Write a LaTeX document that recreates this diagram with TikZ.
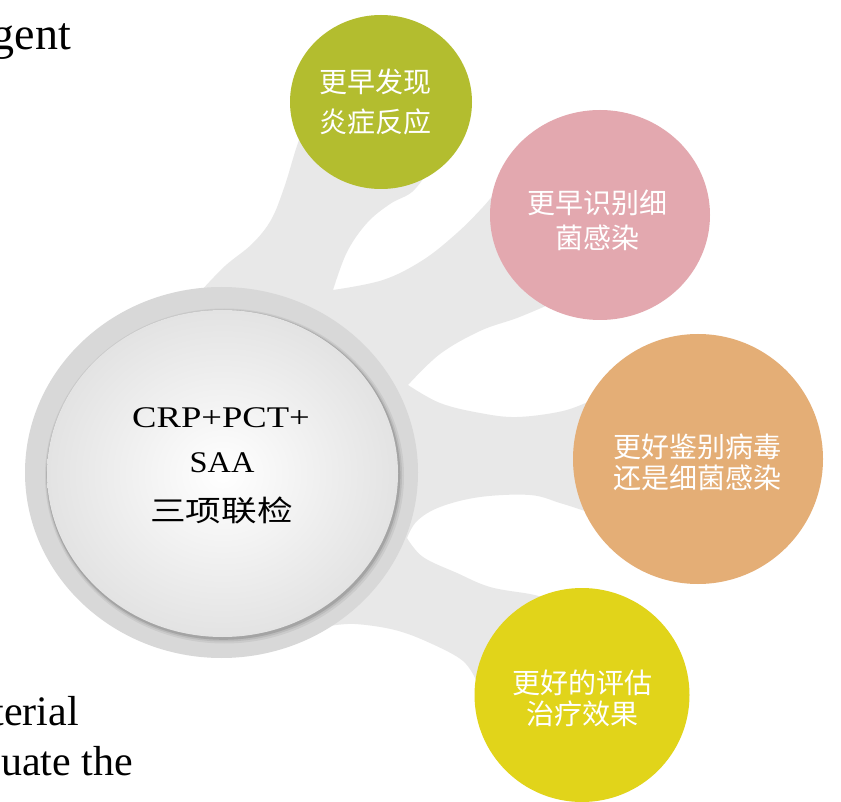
\documentclass[tikz,border=0pt]{standalone}
\usepackage{fontspec}
\setmainfont{Liberation Serif}
\newfontfamily\cjk{Noto Sans CJK SC}
\usetikzlibrary{shapes.geometric}
\definecolor{cgreen}{HTML}{B3BD2F}
\definecolor{cpink}{HTML}{E3A8AF}
\definecolor{corange}{HTML}{E4AE76}
\definecolor{cyellow}{HTML}{E1D41A}
\definecolor{cband}{HTML}{E8E8E8}
\definecolor{cring}{HTML}{D8D8D8}
\tikzset{
  disc/.style={ellipse, inner sep=0pt, outer sep=0pt, draw=none},
  sattext/.style={text=white, align=center, inner sep=0pt},
  frag/.style={anchor=base east, inner sep=0pt},
  hubtext/.style={anchor=base, inner sep=0pt, text=black},
  band/.style={fill=cband},
}
\begin{document}
\begin{tikzpicture}[x=1pt,y=-1pt]
\useasboundingbox (0,0) rectangle (841,802);
\clip (0,0) rectangle (841,802);
\fill[white] (0,0) rectangle (841,802);

% fragments of surrounding page text
\node[frag, font=\fontsize{46}{50}\selectfont] (f1) at (71,50) {gent};
\node[frag, font=\fontsize{42}{50}\selectfont] (f2) at (79,725) {terial};
\node[frag, font=\fontsize{42}{50}\selectfont] (f3) at (133,775) {uate the};

% centres
\coordinate (hc) at (221.5,472.5);
\coordinate (gc) at (381,102);
\coordinate (pc) at (600,215);
\coordinate (oc) at (698,459);
\coordinate (yc) at (582,695);

% grey connector bands
\fill[band] (hc) -- (200,292)
  -- plot[smooth, tension=0.6] coordinates {(200,292) (225,266) (252,244) (271,220) (284,188) (295,152) (303,128)}
  -- (gc)
  -- plot[smooth, tension=0.6] coordinates {(428,172) (412,192) (390,204) (367,223) (347,252) (333,290)}
  -- plot[smooth, tension=0.6] coordinates {(333,290) (383,280) (423,260) (457,233) (483,207) (497,190)}
  -- (pc)
  -- plot[smooth, tension=0.6] coordinates {(548,305) (517,318) (480,331) (440,354) (408,385)}
  -- plot[smooth, tension=0.6] coordinates {(408,385) (440,403) (480,413) (517,417) (563,411) (592,400)}
  -- (oc)
  -- plot[smooth, tension=0.6] coordinates {(588,512) (560,503) (530,495) (480,497) (440,507) (417,521) (407,538)}
  -- plot[smooth, tension=0.6] coordinates {(407,538) (423,557) (457,573) (490,587) (530,594) (545,598)}
  -- (yc)
  -- plot[smooth, tension=0.6] coordinates {(477,682) (463,661) (430,643) (395,630) (355,624) (330,626)}
  -- cycle;

% central hub
\node[disc, fill=cring, minimum width=393pt, minimum height=371pt] (hubring) at (hc) {};
\fill[black, opacity=0.06] (224.5,476) ellipse (179.5 and 167.5);
\fill[black, opacity=0.08] (224,475.5) ellipse (178 and 166);
\fill[black, opacity=0.12] (223.5,475) ellipse (176.8 and 164.8);
\node[disc, inner color=white, outer color=black!11, minimum width=351pt, minimum height=327pt] (hub) at (222.5,473.5) {};
\node[hubtext, font=\fontsize{30}{36}\selectfont] (h1) at (221,427) {\scalebox{1.22}[1]{CRP+PCT+}};
\node[hubtext, font=\fontsize{30}{36}\selectfont] (h2) at (222,472) {\scalebox{1.08}[1]{SAA}};
\node[hubtext, font=\cjk\fontsize{29}{36}\selectfont] (h3) at (221.5,521) {\scalebox{1.23}[1]{三项联检}};

% satellites
\node[disc, fill=cgreen, minimum width=182pt, minimum height=174pt] (s1) at (gc) {};
\node[sattext, font=\cjk\fontsize{28}{40}\selectfont] (t1) at (375,102) {更早发现\\炎症反应};

\node[disc, fill=cpink, minimum width=220pt, minimum height=210pt] (s2) at (pc) {};
\node[sattext, font=\cjk\fontsize{28}{35}\selectfont] (t2) at (597,220) {更早识别细\\菌感染};

\node[disc, fill=corange, minimum width=250pt, minimum height=250pt] (s3) at (oc) {};
\node[sattext, font=\cjk\fontsize{28}{31}\selectfont] (t3) at (697,462) {更好鉴别病毒\\还是细菌感染};

\node[disc, fill=cyellow, minimum width=215pt, minimum height=214pt] (s4) at (yc) {};
\node[sattext, font=\cjk\fontsize{28}{31}\selectfont] (t4) at (582,698) {更好的评估\\治疗效果};
\end{tikzpicture}
\end{document}
